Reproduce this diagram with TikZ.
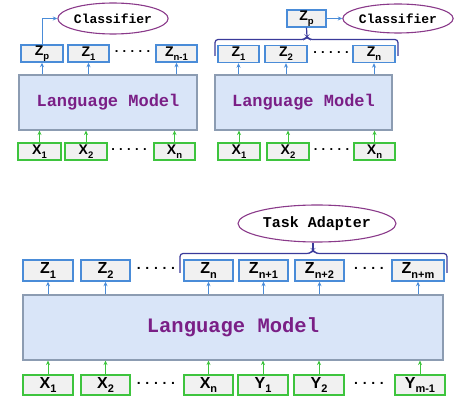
\documentclass[tikz,border=0pt]{standalone}
\usepackage{fontspec}
\setmainfont{Liberation Sans}
\newfontfamily\cour{Liberation Mono}
\usetikzlibrary{arrows.meta,shapes.geometric}
\definecolor{zblue}{HTML}{4A8CD8}
\definecolor{xgreen}{HTML}{3EC43E}
\definecolor{boxfill}{HTML}{F1F1F1}
\definecolor{lmfill}{HTML}{D9E5F8}
\definecolor{lmdraw}{HTML}{8C9CB2}
\definecolor{lmtext}{HTML}{7A1F86}
\definecolor{elldraw}{HTML}{8A3A8A}
\definecolor{bracec}{HTML}{3A3A9A}
\newcommand{\sbx}[1]{\raisebox{-0.28em}{\fontsize{9.5}{10}\selectfont #1}}
\newcommand{\sbxbig}[1]{\raisebox{-0.28em}{\fontsize{11}{11}\selectfont #1}}
\tikzset{
  zbox/.style={draw=zblue, fill=boxfill, line width=1.4pt, inner sep=0pt, minimum height=17pt, font=\bfseries\fontsize{14}{14}\selectfont},
  xbox/.style={draw=xgreen, fill=boxfill, line width=1.4pt, inner sep=0pt, minimum height=17pt, font=\bfseries\fontsize{14}{14}\selectfont},
  lmbox/.style={draw=lmdraw, fill=lmfill, line width=1.1pt, inner sep=0pt},
  lmlabel/.style={text=lmtext, font=\cour\bfseries},
  ell/.style={ellipse, draw=elldraw, line width=1.1pt, fill=white, inner sep=0pt, font=\cour\bfseries},
  barrow/.style={draw=zblue, line width=1pt, -{Stealth[length=4.5pt,width=4pt]}},
  garrow/.style={draw=xgreen, line width=1pt, -{Stealth[length=4.5pt,width=4pt]}},
  bracepath/.style={draw=bracec, line width=1.2pt, rounded corners=3pt},
  dotsnode/.style={inner sep=0pt, font=\bfseries\fontsize{13}{13}\selectfont},
}
\begin{document}
\begin{tikzpicture}[x=1pt,y=-1pt]
\useasboundingbox (0,0) rectangle (467,401);
% ---------- top left ----------
\node[ell, minimum width=106pt, minimum height=31pt, font=\cour\bfseries\fontsize{13}{13}\selectfont] (clsA) at (113,18.5) {Classifier};
\node[zbox, minimum width=42pt] (zpA) at (42,53.5) {Z\sbx{p}};
\node[zbox, minimum width=41pt] (z1A) at (88.5,53.5) {Z\sbx{1}};
\node[dotsnode] (dzA) at (132.5,52) {.\,\,.\,\,.\,\,.\,\,.};
\node[zbox, minimum width=41pt] (znA) at (176.5,53.5) {Z\sbx{n-1}};
\node[lmbox, minimum width=178pt, minimum height=55pt] (lmA) at (108,102.5) {};
\node[lmlabel, font=\cour\bfseries\fontsize{17}{17}\selectfont] (lmtA) at (108,102.5) {Language Model};
\node[xbox, minimum width=43pt] (x1A) at (39.5,151.5) {X\sbx{1}};
\node[xbox, minimum width=42pt] (x2A) at (86,151.5) {X\sbx{2}};
\node[dotsnode] (dxA) at (129,150) {.\,\,.\,\,.\,\,.\,\,.};
\node[xbox, minimum width=41pt] (xnA) at (174.5,151.5) {X\sbx{n}};
\foreach \z in {zpA,z1A,znA} \draw[barrow] (\z |- lmA.north) -- (\z.south);
\foreach \x in {x1A,x2A,xnA} \draw[garrow] (\x.north) -- (\x |- lmA.south);
\draw[barrow] (zpA.north) |- (clsA.west);
% ---------- top right ----------
\node[zbox, minimum width=39pt] (zpB) at (306.5,18.5) {Z\sbx{p}};
\node[ell, minimum width=106pt, minimum height=29pt, font=\cour\bfseries\fontsize{13}{13}\selectfont] (clsB) at (398,18.5) {Classifier};
\node[zbox, minimum width=41pt] (z1B) at (238.5,54) {Z\sbx{1}};
\node[zbox, minimum width=42pt] (z2B) at (286,54) {Z\sbx{2}};
\node[dotsnode] (dzB) at (331,52.5) {.\,\,.\,\,.\,\,.\,\,.};
\node[zbox, minimum width=42pt] (znB) at (374,54) {Z\sbx{n}};
\node[lmbox, minimum width=177pt, minimum height=55pt] (lmB) at (303.5,102.5) {};
\node[lmlabel, font=\cour\bfseries\fontsize{17}{17}\selectfont] (lmtB) at (303.5,102.5) {Language Model};
\node[xbox, minimum width=42pt] (x1B) at (239,151.5) {X\sbx{1}};
\node[xbox, minimum width=42pt] (x2B) at (288,151.5) {X\sbx{2}};
\node[dotsnode] (dxB) at (331.5,150) {.\,\,.\,\,.\,\,.\,\,.};
\node[xbox, minimum width=41pt] (xnB) at (374.5,151.5) {X\sbx{n}};
\foreach \z in {z1B,z2B,znB} \draw[barrow] (\z |- lmB.north) -- (\z.south);
\foreach \x in {x1B,x2B,xnB} \draw[garrow] (\x.north) -- (\x |- lmB.south);
\draw[barrow] (zpB.east) -- (clsB.west);
\coordinate (tipB) at (307,36.5);
\draw[bracepath] (215,56) -- (215,39.5) -- (304.5,39.5) -- (tipB) -- (309.5,39.5) -- (398,39.5) -- (398,56);
\draw[draw=bracec, line width=1.2pt] (tipB) -- (zpB.south);
% ---------- bottom ----------
\node[ell, minimum width=158pt, minimum height=37pt, font=\cour\bfseries\fontsize{15}{16}\selectfont] (ta) at (317,223.5) {Task Adapter};
\tikzset{zbig/.style={zbox, minimum height=21pt, font=\bfseries\fontsize{16}{16}\selectfont},
         xbig/.style={xbox, minimum height=20pt, font=\bfseries\fontsize{16}{16}\selectfont}}
\node[zbig, minimum width=50pt] (z1C) at (48,270.5) {Z\sbxbig{1}};
\node[zbig, minimum width=49pt] (z2C) at (105.5,270.5) {Z\sbxbig{2}};
\node[dotsnode, font=\bfseries\fontsize{14}{14}\selectfont] (dzC) at (156,268.5) {.\,\,.\,\,.\,\,.\,\,.};
\node[zbig, minimum width=49pt] (znC) at (208.5,270.5) {Z\sbxbig{n}};
\node[zbig, minimum width=49pt] (zn1C) at (263.5,270.5) {Z\sbxbig{n+1}};
\node[zbig, minimum width=49pt] (zn2C) at (319.5,270.5) {Z\sbxbig{n+2}};
\node[dotsnode, font=\bfseries\fontsize{14}{14}\selectfont] (dzC2) at (369,268.5) {.\,\,.\,\,.\,\,.};
\node[zbig, minimum width=52pt] (znmC) at (418,270.5) {Z\sbxbig{n+m}};
\node[lmbox, minimum width=420pt, minimum height=65pt] (lmC) at (233,327.5) {};
\node[lmlabel, font=\cour\bfseries\fontsize{20.5}{21}\selectfont] (lmtC) at (233,327.5) {Language Model};
\node[xbig, minimum width=50pt] (x1C) at (48,385) {X\sbxbig{1}};
\node[xbig, minimum width=49pt] (x2C) at (105.5,385) {X\sbxbig{2}};
\node[dotsnode, font=\bfseries\fontsize{14}{14}\selectfont] (dxC) at (156,383) {.\,\,.\,\,.\,\,.\,\,.};
\node[xbig, minimum width=49pt] (xnC) at (208.5,385) {X\sbxbig{n}};
\node[xbig, minimum width=50pt] (y1C) at (263,385) {Y\sbxbig{1}};
\node[xbig, minimum width=50pt] (y2C) at (319,385) {Y\sbxbig{2}};
\node[dotsnode, font=\bfseries\fontsize{14}{14}\selectfont] (dxC2) at (369,383) {.\,\,.\,\,.\,\,.};
\node[xbig, minimum width=50pt] (ymC) at (420,385) {Y\sbxbig{m-1}};
\foreach \z in {z1C,z2C,znC,zn1C,zn2C,znmC} \draw[barrow] (\z |- lmC.north) -- (\z.south);
\foreach \x in {x1C,x2C,xnC,y1C,y2C,ymC} \draw[garrow] (\x.north) -- (\x |- lmC.south);
\coordinate (tipC) at (313,250);
\draw[bracepath] (180,273) -- (180,253.5) -- (310,253.5) -- (tipC) -- (316,253.5) -- (447,253.5) -- (447,273);
\draw[draw=bracec, line width=1.2pt] (tipC) -- (tipC |- ta.south);
\end{tikzpicture}
\end{document}
